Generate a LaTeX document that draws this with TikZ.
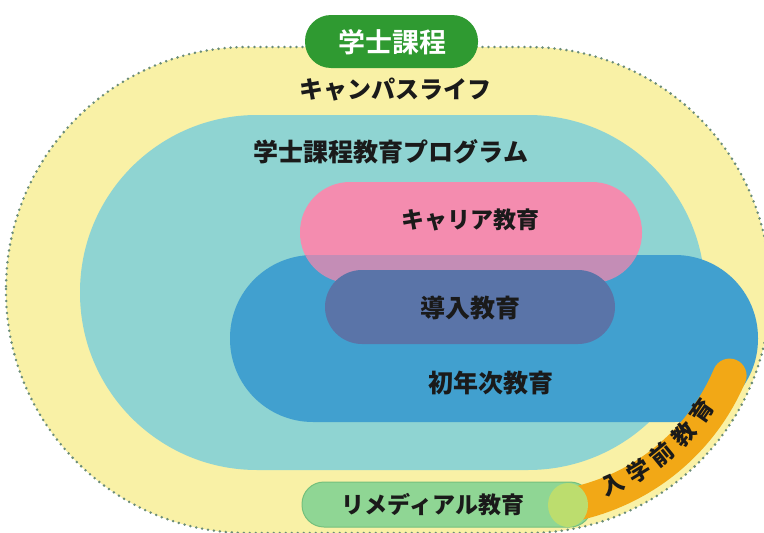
\documentclass[tikz,border=0pt]{standalone}
\usepackage{fontspec}
\newfontfamily\jp{Noto Sans CJK JP Black}
\newfontfamily\jpb{Noto Sans CJK JP Bold}
\definecolor{outerY}{HTML}{F9F1A6}
\definecolor{dotC}{HTML}{6A8C78}
\definecolor{cyanC}{HTML}{8FD4D2}
\definecolor{blueC}{HTML}{41A0CF}
\definecolor{pinkC}{HTML}{F48CAF}
\definecolor{mauveC}{HTML}{C48DB6}
\definecolor{slateC}{HTML}{5A74A8}
\definecolor{greenC}{HTML}{2F9A31}
\definecolor{remC}{HTML}{8FD694}
\definecolor{remB}{HTML}{74C07C}
\definecolor{limeC}{HTML}{BCDD6E}
\definecolor{orangeC}{HTML}{F2A816}
\definecolor{txtC}{HTML}{1A1A1A}
\tikzset{
  lbl/.style={inner sep=0pt, text=txtC, font=\jp\fontsize{#1}{#1}\selectfont},
  lbl/.default=24
}
\begin{document}
\begin{tikzpicture}[x=1pt,y=-1pt]
\useasboundingbox (0,0) rectangle (764,533);
\clip (0,0) rectangle (764,533);
% outer campus life area
\fill[outerY, rounded corners=242pt] (6,47) rectangle (770,533);
\draw[dotC, line width=2.8pt, line cap=round, dash pattern=on 0pt off 6pt, rounded corners=242pt] (6,47) rectangle (770,533);
% bachelor programme area
\fill[cyanC, rounded corners=177pt] (80,115) rectangle (705,470);
% career education
\fill[pinkC, rounded corners=50pt] (300,182) rectangle (642,283);
% first year education
\fill[blueC, rounded corners=83pt] (230,255) rectangle (758,422);
\begin{scope}
  \clip[rounded corners=83pt] (230,255) rectangle (758,422);
  \fill[mauveC, rounded corners=50pt] (300,182) rectangle (642,283);
\end{scope}
% introductory education
\fill[slateC, rounded corners=37pt] (325,270) rectangle (615,344);
% remedial education
\filldraw[fill=remC, draw=remB, line width=1pt, rounded corners=22pt] (302,482) rectangle (592,527);
% pre-entrance education band
\draw[orangeC, line width=34pt, line cap=round] plot[domain=23:80, samples=60] ({528+219*cos(\x)},{290+219*sin(\x)});
\fill[limeC] (568,505) ellipse [x radius=20pt, y radius=22pt];
% bachelor pill
\fill[greenC, rounded corners=26pt] (305,15) rectangle (478,68);
% labels
\node[lbl=27, text=white, font=\jpb\fontsize{27}{27}\selectfont] (gakushi) at (392,42) {学士課程};
\node[lbl=24] (campus) at (395,90) {キャンパスライフ};
\node[lbl=25] (program) at (391,152) {学士課程教育プログラム};
\node[lbl=23] (career) at (470,220) {キャリア教育};
\node[lbl=25] (intro) at (470,308) {導入教育};
\node[lbl=25] (first) at (491,383) {初年次教育};
\node[lbl=23] (remedial) at (433,505) {リメディアル教育};
\foreach \c [count=\i from 0] in {入,学,前,教,育}{
  \pgfmathsetmacro{\ph}{66.5-7.9*\i}
  \node[lbl=23, rotate={90-\ph}] (pre\i) at ({528+212*cos(\ph)},{290+212*sin(\ph)}) {\c};
}
\end{tikzpicture}
\end{document}
